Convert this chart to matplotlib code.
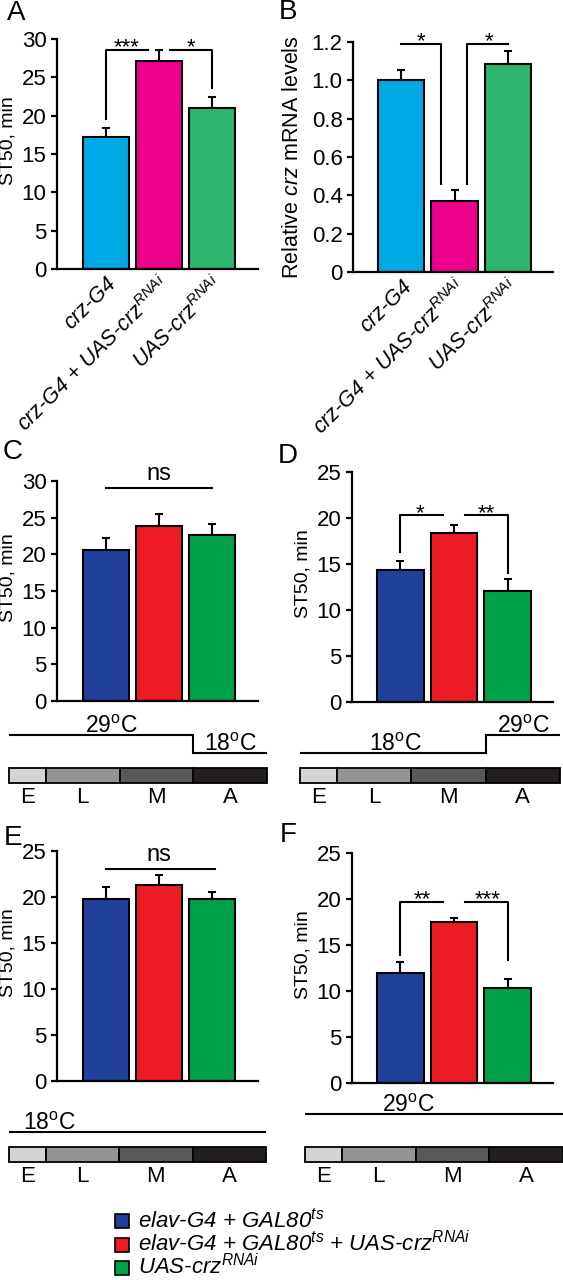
import matplotlib

matplotlib.use("Agg")
import matplotlib.pyplot as plt
import numpy as np
from matplotlib.patches import Rectangle

plt.rcParams["font.family"] = ["Liberation Sans", "DejaVu Sans"]
plt.rcParams["mathtext.fontset"] = "custom"
plt.rcParams["mathtext.rm"] = "Liberation Sans"
plt.rcParams["mathtext.it"] = "Liberation Sans:italic"
plt.rcParams["mathtext.default"] = "it"

W, H = 563, 1280

# ---- data ----
crz_groups = ["crz-G4", "crz-G4 + UAS-crz$^{RNAi}$", "UAS-crz$^{RNAi}$"]
crz_colors = ["#00a9e6", "#ec008c", "#2db46e"]
st50_A = [17.2, 27.1, 21.0]
st50_A_err = [1.2, 1.5, 1.5]
mrna_B = [1.00, 0.37, 1.085]
mrna_B_err = [0.055, 0.06, 0.07]

elav_groups = ["elav-G4 + GAL80$^{ts}$",
               "elav-G4 + GAL80$^{ts}$ + UAS-crz$^{RNAi}$",
               "UAS-crz$^{RNAi}$"]
elav_colors = ["#21409a", "#ed1c24", "#00a14b"]
st50_C = [20.6, 23.9, 22.7]
st50_C_err = [1.6, 1.6, 1.4]
st50_D = [14.35, 18.4, 12.1]
st50_D_err = [1.0, 0.8, 1.3]
st50_E = [19.8, 21.3, 19.8]
st50_E_err = [1.3, 1.1, 0.7]
st50_F = [12.0, 17.5, 10.3]
st50_F_err = [1.1, 0.4, 1.0]

stages = ["E", "L", "M", "A"]
stage_len = [1, 2, 2, 2]
stage_colors = ["#d4d4d4", "#949494", "#59595b", "#231f20"]
temp_C = [29, 29, 29, 18]
temp_D = [18, 18, 18, 29]
temp_E = [18, 18, 18, 18]
temp_F = [29, 29, 29, 29]

fig = plt.figure(figsize=(W / 100, H / 100), dpi=100)


def px_axes(x0, y0, x1, y1):
    return fig.add_axes([x0 / W, 1 - y1 / H, (x1 - x0) / W, (y1 - y0) / H])


def bar_panel(box, vals, errs, colors, ymax, ystep, xlim, ylabel, ylabel_x, lsize=14):
    ax = px_axes(*box)
    x = np.arange(len(vals))
    ax.errorbar(x, vals, yerr=[np.zeros(len(errs)), errs], fmt="none", ecolor="black",
                elinewidth=1.5, capsize=3.2, capthick=1.5, zorder=1)
    ax.bar(x, vals, width=0.87, color=colors, edgecolor="black", linewidth=1.5, zorder=2)
    ax.set_xlim(*xlim)
    ax.set_ylim(0, ymax)
    ax.set_yticks(np.arange(0, ymax + ystep / 2, ystep))
    for s in ("top", "right"):
        ax.spines[s].set_visible(False)
    for s in ("left", "bottom"):
        ax.spines[s].set_linewidth(1.6)
    ax.tick_params(axis="y", length=4, width=1.6, pad=3.5, labelsize=16)
    ax.tick_params(axis="x", length=0)
    ax.set_xticks([])
    ax.set_ylabel(ylabel, fontsize=lsize)
    ax.yaxis.set_label_coords(ylabel_x, 0.56)
    return ax


def draw_line(ax, xs, ys):
    ax.plot(xs, ys, color="black", lw=1.5, clip_on=False, zorder=3)


def star(ax, x, y, s, dy=-2.5, size=16):
    ax.annotate(s, (x, y), xytext=(0, dy), textcoords="offset points", ha="center",
                va="baseline", fontsize=size, annotation_clip=False)


def timeline(x0, x1, y18, temps, labels, bar_top):
    k = 18 / 11
    edges = np.concatenate([[0], np.cumsum(stage_len)])
    ax = px_axes(x0, y18 - 40, x1, y18 + 8)
    ax.set_xlim(0, edges[-1])
    ax.set_ylim(18 - 8 / k, 18 + 40 / k)
    ax.stairs(temps, edges, baseline=None, color="black", lw=1.5)
    for xt, t in labels:
        ax.annotate("%d$^{\\mathrm{o}}$C" % t, (xt, t), xytext=(0, 1.2), textcoords="offset points",
                    ha="center", va="baseline", fontsize=16.5)
    ax.axis("off")

    bx = px_axes(x0, bar_top, x1, bar_top + 15)
    bx.barh(0, stage_len, left=edges[:-1], height=1, color=stage_colors,
            edgecolor="black", linewidth=1.3, clip_on=False)
    bx.set_xlim(0, edges[-1])
    bx.set_ylim(-0.5, 0.5)
    for st, c in zip(stages, (edges[:-1] + edges[1:]) / 2):
        bx.annotate(st, (c, -0.5), xytext=(0, -3), textcoords="offset points",
                    ha="center", va="top", fontsize=16)
    bx.axis("off")


# ---- A ----
axA = bar_panel((57, 39, 258, 269), st50_A, st50_A_err, crz_colors, 30, 5,
                (-0.92, 2.87), "ST50, min", -0.2)
axA.set_xticks(range(3))
axA.set_xticklabels(crz_groups, rotation=45, ha="right", va="top", rotation_mode="anchor",
                    fontsize=15.5, style="italic")
axA.tick_params(axis="x", pad=3)
draw_line(axA, [0, 0, 0.79], [19.6, 28.6, 28.6])
draw_line(axA, [1.21, 2, 2], [28.6, 28.6, 23.6])
star(axA, 0.4, 28.6, "***")
star(axA, 1.6, 28.6, "*")

# ---- B ----
axB = bar_panel((353, 42, 553, 272), mrna_B, mrna_B_err, crz_colors, 1.2, 0.2,
                (-0.9, 2.84), "Relative $\\mathit{crz}$ mRNA levels", -0.25, lsize=15.5)
axB.set_yticklabels(["0", "0.2", "0.4", "0.6", "0.8", "1.0", "1.2"])
axB.yaxis.set_label_coords(-0.25, 0.5)
axB.set_xticks(range(3))
axB.set_xticklabels(crz_groups, rotation=45, ha="right", va="top", rotation_mode="anchor",
                    fontsize=15.5, style="italic")
axB.tick_params(axis="x", pad=3)
draw_line(axB, [0, 0.75, 0.75], [1.19, 1.19, 0.46])
draw_line(axB, [1.23, 1.23, 2], [0.46, 1.19, 1.19])
star(axB, 0.37, 1.19, "*")
star(axB, 1.65, 1.19, "*")

# ---- C ----
axC = bar_panel((57, 481, 258, 701), st50_C, st50_C_err, elav_colors, 30, 5,
                (-0.92, 2.87), "ST50, min", -0.2)
draw_line(axC, [0, 2], [29, 29])
star(axC, 1, 29, "ns", dy=6, size=17)

# ---- D ----
axD = bar_panel((352, 472, 553, 702), st50_D, st50_D_err, elav_colors, 25, 5,
                (-0.9, 2.84), "ST50, min", -0.2)
draw_line(axD, [0, 0, 0.8], [16.3, 20.3, 20.3])
draw_line(axD, [1.2, 2, 2], [20.3, 20.3, 14.0])
star(axD, 0.37, 20.3, "*")
star(axD, 1.6, 20.3, "**")

# ---- E ----
axE = bar_panel((57, 851, 258, 1081), st50_E, st50_E_err, elav_colors, 25, 5,
                (-0.92, 2.87), "ST50, min", -0.2)
draw_line(axE, [0, 2.05], [23, 23])
star(axE, 1, 23, "ns", dy=6, size=17)

# ---- F ----
axF = bar_panel((352, 853, 553, 1083), st50_F, st50_F_err, elav_colors, 25, 5,
                (-0.9, 2.84), "ST50, min", -0.2)
draw_line(axF, [0, 0, 0.8], [13.9, 19.7, 19.7])
draw_line(axF, [1.2, 2, 2], [19.7, 19.7, 13.4])
star(axF, 0.4, 19.7, "**")
star(axF, 1.63, 19.7, "***")

# ---- developmental timelines ----
timeline(9, 267, 753, temp_C, [(2.77, 29), (6.0, 18)], 768)
timeline(300, 560, 753, temp_D, [(2.58, 18), (6.02, 29)], 768)
timeline(9, 266, 1132, temp_E, [(1.1, 18)], 1147)
timeline(305, 563, 1132, temp_F, [(2.8, 29)], 1147)

# ---- panel letters ----
for letter, (px, py) in zip("ABCDEF", [(16, 13), (288, 12), (13, 452), (288, 456), (13, 838), (288, 835)]):
    fig.text(px / W, 1 - py / H, letter, fontsize=20, ha="center", va="center")

# ---- legend (drawn by hand for exact row spacing) ----
for i, (lab, col) in enumerate(zip(elav_groups, elav_colors)):
    yc = 1221 + 23.5 * i
    fig.add_artist(Rectangle((115 / W, 1 - (yc + 7) / H), 14 / W, 14 / H,
                             transform=fig.transFigure, facecolor=col,
                             edgecolor="black", linewidth=1.2))
    fig.text(138 / W, 1 - (yc + 6.5) / H, lab, fontsize=16, style="italic",
             ha="left", va="baseline")

fig.savefig("out.png", dpi=100)
